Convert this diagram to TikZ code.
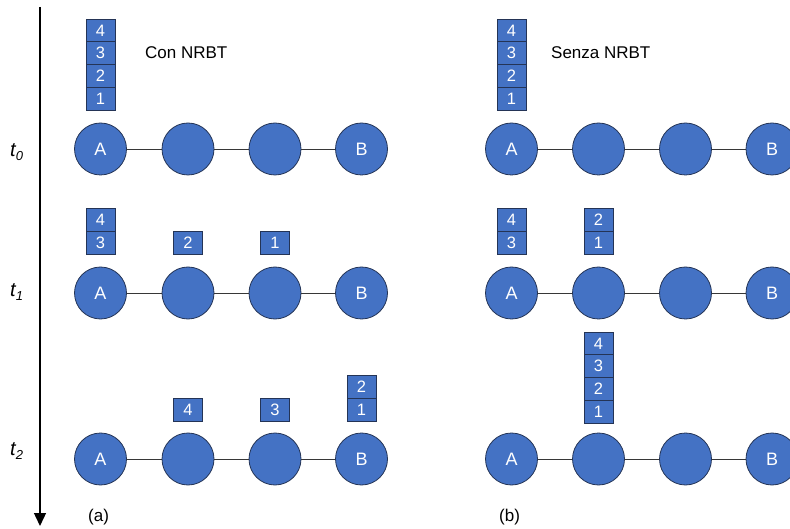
\documentclass[tikz,border=0pt]{standalone}
\usepackage{fontspec}
\setmainfont{Liberation Sans}
\usetikzlibrary{arrows.meta}
\definecolor{nodeblue}{RGB}{68,114,196}
\definecolor{nodeedge}{RGB}{36,52,86}
\definecolor{linkgray}{RGB}{55,55,55}
\begin{document}
\begin{tikzpicture}[x=1pt,y=-1pt,
  hop/.style={circle, fill=nodeblue, draw=nodeedge, line width=0.8pt,
    minimum size=52pt, inner sep=0pt, text=white,
    font=\fontsize{18}{18}\selectfont},
  pkt/.style={rectangle, fill=nodeblue, draw=nodeedge, line width=0.7pt,
    minimum width=29pt, minimum height=22.75pt, inner sep=0pt, text=white,
    font=\fontsize{16.5}{16.5}\selectfont},
  link/.style={draw=linkgray, line width=0.8pt},
  caption/.style={font=\fontsize{17}{17}\selectfont, anchor=west, inner sep=0pt},
  tlabel/.style={anchor=base west, inner sep=0pt, font=\fontsize{20}{20}\selectfont\itshape},
]
\useasboundingbox (0,0) rectangle (790,529);

% time axis
\coordinate (axtop) at (40,7);
\coordinate (axbot) at (40,526);
\draw[line width=1.4pt, -{Triangle[length=13pt,width=12pt]}] (axtop) -- (axbot);

\node[tlabel] (t0) at (10,157) {t\raisebox{-4pt}{\fontsize{13}{13}\selectfont 0}};
\node[tlabel] (t1) at (10,297) {t\raisebox{-4pt}{\fontsize{13}{13}\selectfont 1}};
\node[tlabel] (t2) at (10,455) {t\raisebox{-4pt}{\fontsize{13}{13}\selectfont 2}};

% chains of four hops, three time steps, two scenarios
\foreach \row/\y in {0/149,1/293,2/459} {
  \node[hop] (La\row) at (100.5,\y) {A};
  \node[hop] (Lb\row) at (188,\y) {};
  \node[hop] (Lc\row) at (275,\y) {};
  \node[hop] (Ld\row) at (361.5,\y) {B};
  \draw[link] (La\row) -- (Lb\row) (Lb\row) -- (Lc\row) (Lc\row) -- (Ld\row);
  \node[hop] (Ra\row) at (511.5,\y) {A};
  \node[hop] (Rb\row) at (598.5,\y) {};
  \node[hop] (Rc\row) at (685.5,\y) {};
  \node[hop] (Rd\row) at (772,\y) {B};
  \draw[link] (Ra\row) -- (Rb\row) (Rb\row) -- (Rc\row) (Rc\row) -- (Rd\row);
}

% packet stacks (listed bottom to top)
% with NRBT
\foreach \l [count=\k from 0] in {1,2,3,4}
  \node[pkt] (pa0\l) at (100.5,{110-11.375-\k*22.75}) {\l};
\foreach \l [count=\k from 0] in {3,4}
  \node[pkt] (pa1\l) at (100.5,{254-11.375-\k*22.75}) {\l};
\node[pkt] (pb12) at (188,242.6) {2};
\node[pkt] (pc11) at (275,242.6) {1};
\node[pkt] (pb24) at (188,409.6) {4};
\node[pkt] (pc23) at (275,409.6) {3};
\foreach \l [count=\k from 0] in {1,2}
  \node[pkt] (pd2\l) at (361.5,{421-11.375-\k*22.75}) {\l};

% without NRBT
\foreach \l [count=\k from 0] in {1,2,3,4}
  \node[pkt] (qa0\l) at (511.5,{110-11.375-\k*22.75}) {\l};
\foreach \l [count=\k from 0] in {3,4}
  \node[pkt] (qa1\l) at (511.5,{254-11.375-\k*22.75}) {\l};
\foreach \l [count=\k from 0] in {1,2}
  \node[pkt] (qb1\l) at (598.5,{254-11.375-\k*22.75}) {\l};
\foreach \l [count=\k from 0] in {1,2,3,4}
  \node[pkt] (qb2\l) at (598.5,{423-11.375-\k*22.75}) {\l};

% captions
\node[caption] (capL) at (145,53) {Con NRBT};
\node[caption] (capR) at (551,53) {Senza NRBT};
\node[caption] (subA) at (88,517) {(a)};
\node[caption] (subB) at (499,517) {(b)};
\end{tikzpicture}
\end{document}
